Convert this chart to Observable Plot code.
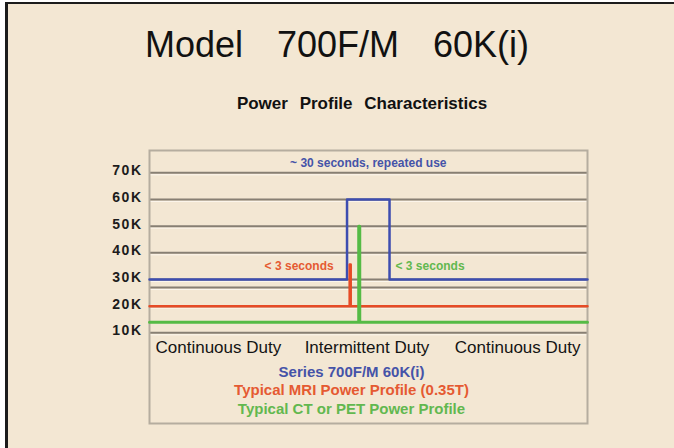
<!DOCTYPE html>
<html><head><meta charset="utf-8">
<script src="https://cdn.jsdelivr.net/npm/d3@7"></script>
<script src="https://cdn.jsdelivr.net/npm/@observablehq/plot@0.6"></script>
<style>
html,body{margin:0;padding:0;background:#fff;width:674px;height:448px;overflow:hidden;font-family:"Liberation Sans",Arial,sans-serif;}
#page{position:absolute;left:5px;top:2px;right:0;bottom:0;border-left:3px solid #1c1c1c;border-top:2px solid #1c1c1c;background:#f3e7d3;}
#title{position:absolute;left:0;width:674px;top:27px;text-align:center;font-size:36px;line-height:36px;word-spacing:7px;color:#111;margin:0;font-weight:normal;white-space:pre;}
#subtitle{position:absolute;left:0;width:724px;top:95px;text-align:center;font-size:17px;line-height:17px;word-spacing:7px;color:#111;margin:0;font-weight:bold;white-space:pre;}
#chart{position:absolute;left:0;top:140px;}
</style>
</head><body>
<div id="page"></div>
<h1 id="title">Model  700F/M  60K(i)</h1>
<h2 id="subtitle">Power Profile Characteristics</h2>
<div id="chart"></div>
<script>
// values in thousands (K)
const yTicks = [10, 20, 30, 40, 50, 60, 70];
const gridValues = [10, 20, 27, 30, 40, 50, 60, 70];

// time axis in arbitrary units 0..100
const blueX = [0, 45.1, 45.1, 54.8, 54.8, 100];
const blueY = [30, 30, 60, 60, 30, 30];
const redX = [0, 45.7, 45.7, 45.94, 45.94, 100];
const redY = [20, 20, 35.6, 35.6, 20, 20];
const greenX = [0, 47.77, 47.77, 48.0, 48.0, 100];
const greenY = [14, 14, 50, 50, 14, 14];

const phaseLabels = ["Continuous Duty", "Intermittent Duty", "Continuous Duty"];
const legendLabels = ["Series 700F/M 60K(i)", "Typical MRI Power Profile (0.35T)", "Typical CT or PET Power Profile"];
const annotations = ["~ 30 seconds, repeated use", "< 3 seconds", "< 3 seconds"];

const lineColors = ["#3d4db0", "#e64b26", "#55bb45"];
const textColors = ["#4553a8", "#e55a32", "#62b84f"];

const toPoints = (xs, ys) => xs.map((x, i) => ({x, y: ys[i]}));
const font = '"Liberation Sans", Arial, sans-serif';

const phaseAnchors = [
  {frameAnchor: "bottom-left", textAnchor: "start", dx: 6},
  {frameAnchor: "bottom", textAnchor: "middle", dx: -1.5},
  {frameAnchor: "bottom-right", textAnchor: "end", dx: -7}
];

const plot = Plot.plot({
  width: 674, height: 308,
  marginTop: 10, marginBottom: 25, marginLeft: 149, marginRight: 87,
  x: {domain: [0, 100], axis: null},
  y: {domain: [-24.0, 78.36], axis: null},
  style: {background: "transparent", fontFamily: font, overflow: "visible"},
  marks: [
    Plot.ruleY(gridValues, {stroke: "#fcf6ec", strokeWidth: 1, dy: 2}),
    Plot.ruleY(gridValues, {stroke: "#877f73", strokeWidth: 2}),
    Plot.frame({stroke: "#b5ad9f", strokeWidth: 2}),
    Plot.axisY(yTicks, {anchor: "left", tickSize: 0, tickPadding: 7, tickFormat: d => d + "K",
      fontSize: 14, fontWeight: "bold", fill: "#1c1c1c", dy: -2, label: null}),
    Plot.line(toPoints(blueX, blueY), {x: "x", y: "y", stroke: lineColors[0], strokeWidth: 2.5}),
    Plot.line(toPoints(redX, redY), {x: "x", y: "y", stroke: lineColors[1], strokeWidth: 2.5}),
    Plot.line(toPoints(greenX, greenY), {x: "x", y: "y", stroke: lineColors[2], strokeWidth: 3}),
    Plot.text([{t: annotations[0], x: (blueX[2] + blueX[3]) / 2}], {x: "x", text: "t", frameAnchor: "top",
      dy: 12.2, lineAnchor: "middle", fontSize: 12, fontWeight: "bold", fill: textColors[0]}),
    Plot.text([{t: annotations[1], x: redX[1], y: redY[2]}], {x: "x", y: "y", text: "t", textAnchor: "end",
      dx: -16, dy: 1.2, lineAnchor: "middle", fontSize: 12, fontWeight: "bold", fill: textColors[1]}),
    Plot.text([{t: annotations[2], x: blueX[3], y: redY[2]}], {x: "x", y: "y", text: "t", textAnchor: "start",
      dx: 6, dy: 1.2, lineAnchor: "middle", fontSize: 12, fontWeight: "bold", fill: textColors[2]}),
    ...phaseLabels.map((label, i) => Plot.text([label], {text: d => d, ...phaseAnchors[i],
      dy: -76.4, lineAnchor: "middle", fontSize: 17, fill: "#141414"})),
    ...legendLabels.map((label, i) => Plot.text([label], {text: d => d, frameAnchor: "bottom",
      dx: -17, dy: -51.8 + i * 18.5, lineAnchor: "middle", fontSize: 15, fontWeight: "bold", fill: textColors[i]}))
  ]
});
plot.querySelectorAll('g[aria-label="y-axis tick label"] text').forEach(t => t.setAttribute("letter-spacing", "1.5"));
document.getElementById("chart").appendChild(plot);
</script>
</body></html>
